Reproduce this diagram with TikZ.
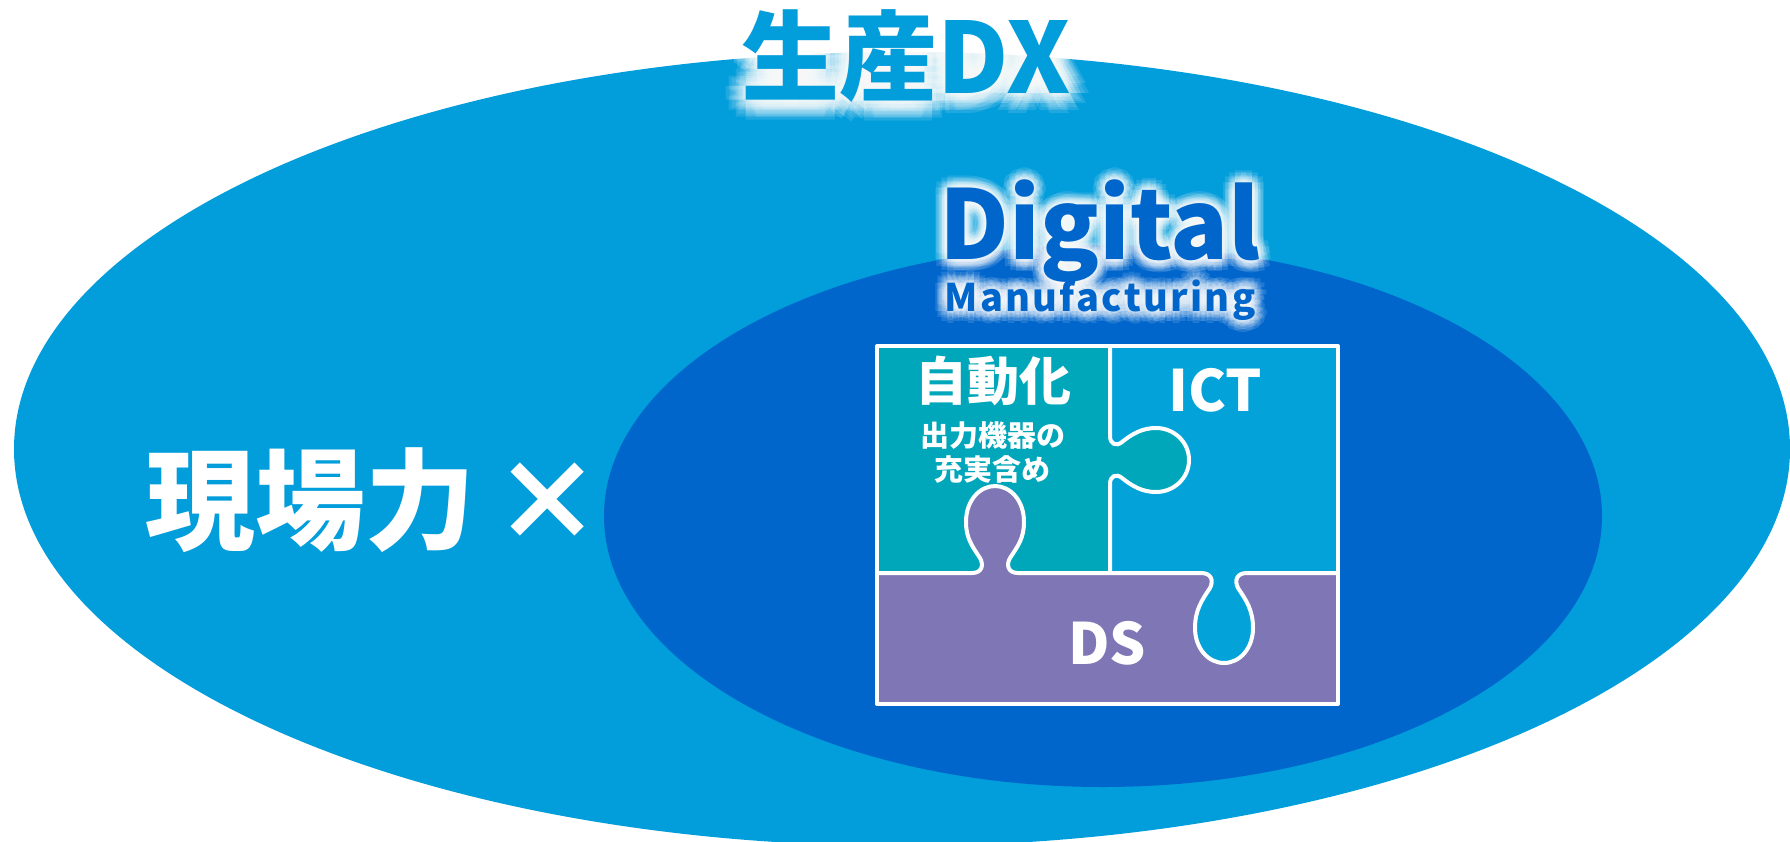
\documentclass[tikz,border=0pt]{standalone}
\usepackage{fontspec}
\setmainfont{Noto Sans CJK JP}
\usetikzlibrary{positioning}
\definecolor{outerblue}{RGB}{2,157,219}
\definecolor{innerblue}{RGB}{0,102,204}
\definecolor{autoteal}{RGB}{0,166,185}
\definecolor{ictblue}{RGB}{3,163,218}
\definecolor{dspurple}{RGB}{127,118,181}
\tikzstyle{title} = [inner sep=0pt, text=outerblue, font=\bfseries\fontsize{98}{98}\selectfont]
\tikzstyle{bigword} = [inner sep=0pt, text=innerblue, font=\bfseries\fontsize{96}{96}\selectfont]
\tikzstyle{subword} = [inner sep=0pt, text=innerblue, font=\bfseries\fontsize{38}{38}\selectfont\addfontfeatures{LetterSpace=6}]
\tikzstyle{whitelabel} = [inner sep=0pt, text=white, font=\bfseries]
\tikzstyle{glow} = [text=white, opacity=0.12]
\tikzstyle{seam} = [draw=white, line width=4pt, line join=round]

\begin{document}
\begin{tikzpicture}[x=1pt, y=-1pt]
        \useasboundingbox (0,0) rectangle (1790,842);
        \clip (0,0) rectangle (1790,842);

        % ellipses
        \fill[outerblue] (902,449) ellipse [x radius=888pt, y radius=397pt];
        \fill[innerblue] (1103,516) ellipse [x radius=499pt, y radius=271pt];

        % puzzle
        \fill[dspurple] (877,346) rectangle (1338,704);
        \fill[autoteal] (877,346) -- (1110,346) -- (1110,436)
            .. controls (1110,444) and (1116,447) .. (1122,442)
            .. controls (1132,434) and (1142,428) .. (1156,428)
            .. controls (1174,428) and (1189,442) .. (1189,460)
            .. controls (1189,478) and (1174,492) .. (1156,492)
            .. controls (1142,492) and (1132,486) .. (1122,478)
            .. controls (1116,473) and (1110,476) .. (1110,484)
            -- (1110,573) -- (1018,573)
            .. controls (1008,573) and (1006,565) .. (1010,558)
            .. controls (1018,546) and (1024,538) .. (1024,522)
            .. controls (1024,500) and (1010,486) .. (995,486)
            .. controls (980,486) and (966,500) .. (966,522)
            .. controls (966,538) and (972,546) .. (980,558)
            .. controls (984,565) and (982,573) .. (972,573)
            -- (877,573) -- cycle;
        \fill[ictblue] (1338,346) -- (1110,346) -- (1110,436)
            .. controls (1110,444) and (1116,447) .. (1122,442)
            .. controls (1132,434) and (1142,428) .. (1156,428)
            .. controls (1174,428) and (1189,442) .. (1189,460)
            .. controls (1189,478) and (1174,492) .. (1156,492)
            .. controls (1142,492) and (1132,486) .. (1122,478)
            .. controls (1116,473) and (1110,476) .. (1110,484)
            -- (1110,573) -- (1201,573)
            .. controls (1211,573) and (1214,580) .. (1210,588)
            .. controls (1202,600) and (1195,610) .. (1195,628)
            .. controls (1195,648) and (1208,663) .. (1224,663)
            .. controls (1240,663) and (1253,648) .. (1253,628)
            .. controls (1253,610) and (1246,600) .. (1238,588)
            .. controls (1234,580) and (1237,573) .. (1247,573)
            -- (1338,573) -- cycle;

        % seams
        \draw[seam] (877,346) rectangle (1338,704);
        \draw[seam] (1110,346) -- (1110,436)
            .. controls (1110,444) and (1116,447) .. (1122,442)
            .. controls (1132,434) and (1142,428) .. (1156,428)
            .. controls (1174,428) and (1189,442) .. (1189,460)
            .. controls (1189,478) and (1174,492) .. (1156,492)
            .. controls (1142,492) and (1132,486) .. (1122,478)
            .. controls (1116,473) and (1110,476) .. (1110,484)
            -- (1110,573);
        \draw[seam] (877,573) -- (972,573)
            .. controls (982,573) and (984,565) .. (980,558)
            .. controls (972,546) and (966,538) .. (966,522)
            .. controls (966,500) and (980,486) .. (995,486)
            .. controls (1010,486) and (1024,500) .. (1024,522)
            .. controls (1024,538) and (1018,546) .. (1010,558)
            .. controls (1006,565) and (1008,573) .. (1018,573)
            -- (1201,573)
            .. controls (1211,573) and (1214,580) .. (1210,588)
            .. controls (1202,600) and (1195,610) .. (1195,628)
            .. controls (1195,648) and (1208,663) .. (1224,663)
            .. controls (1240,663) and (1253,648) .. (1253,628)
            .. controls (1253,610) and (1246,600) .. (1238,588)
            .. controls (1234,580) and (1237,573) .. (1247,573)
            -- (1338,573);

        % titles with glow
        \coordinate (dxpos) at (906,56);
        \coordinate (digpos) at (1100,260);
        \coordinate (manpos) at (1100,311);
        \foreach \r in {4,8,12,16,20}
            \foreach \a in {0,30,...,330}
                \node[title, glow] (dxglow-\r-\a) at ([shift={(\a:\r)}]dxpos) {生産DX};
        \foreach \r in {3,6,9,12}
            \foreach \a in {0,30,...,330} {
                \node[bigword, glow, anchor=base] (digglow-\r-\a) at ([shift={(\a:\r)}]digpos) {Digital};
                \node[subword, glow, anchor=base] (manglow-\r-\a) at ([shift={(\a:\r)}]manpos) {Manufacturing};
            }
        \node[title] (dx) at (dxpos) {生産DX};
        \node[bigword, anchor=base] (digital) at (digpos) {Digital};
        \node[subword, anchor=base] (manufacturing) at (manpos) {Manufacturing};

        % labels
        \node[whitelabel, font=\bfseries\fontsize{110}{110}\selectfont] (genba) at (374,500) {現場力\hspace{17pt}×};
        \node[whitelabel, font=\bfseries\fontsize{52}{52}\selectfont] (auto) at (993,381) {自動化};
        \node[whitelabel, font=\bfseries\fontsize{29}{29}\selectfont] (autoa) at (993,436) {出力機器の};
        \node[whitelabel, font=\bfseries\fontsize{29}{29}\selectfont] (autob) at (992,470) {充実含め};
        \node[whitelabel, font=\bfseries\fontsize{57}{57}\selectfont] (ict) at (1215,390) {ICT};
        \node[whitelabel, font=\bfseries\fontsize{57}{57}\selectfont] (ds) at (1107,643) {DS};

    \end{tikzpicture}
\end{document}
